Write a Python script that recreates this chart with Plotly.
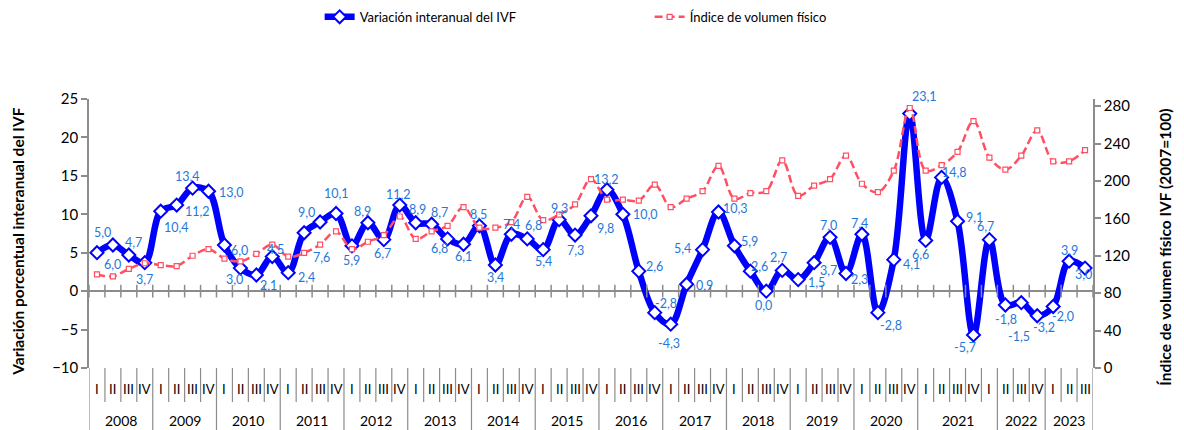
import plotly.graph_objects as go

# ---------------- data ----------------
quarter_labels = ["I", "II", "III", "IV"] * 15 + ["I", "II", "III"]
year_labels = ["2008", "2009", "2010", "2011", "2012", "2013", "2014", "2015",
               "2016", "2017", "2018", "2019", "2020", "2021", "2022", "2023"]
year_sizes = [4] * 13 + [5, 3, 3]

variacion_ivf = [5.0, 6.0, 4.7, 3.7,
                 10.4, 11.2, 13.4, 13.0,
                 6.0, 3.0, 2.1, 4.5,
                 2.4, 7.6, 9.0, 10.1,
                 5.9, 8.9, 6.7, 11.2,
                 8.9, 8.7, 6.8, 6.1,
                 8.5, 3.4, 7.4, 6.8,
                 5.4, 9.3, 7.3, 9.8,
                 13.2, 10.0, 2.6, -2.8,
                 -4.3, 0.9, 5.4, 10.3,
                 5.9, 2.6, 0.0, 2.7,
                 1.5, 3.7, 7.0, 2.3,
                 7.4, -2.8, 4.1, 23.1,
                 6.6, 14.8, 9.1, -5.7,
                 6.7, -1.8, -1.5, -3.2,
                 -2.0, 3.9, 3.0]

indice_ivf = [100, 98, 106, 112,
              110, 109, 120, 127,
              117, 114, 122, 132,
              119, 123, 132, 146,
              127, 135, 142, 162,
              138, 146, 152, 172,
              150, 150, 156, 183,
              158, 164, 175, 202,
              180, 180, 179, 196,
              172, 181, 189, 216,
              181, 187, 189, 222,
              184, 195, 202, 227,
              197, 188, 211, 278,
              211, 217, 231, 264,
              225, 212, 227, 254,
              221, 221, 233]

# data-label offsets in pixels (dx right, dy down) - styling only
label_offsets = [
    (6, -20), (0, 19), (5, -13), (0, 17),
    (16, 16), (21, 6), (-5, -12), (23, 1),
    (15, 5), (-6, 11), (12, 10), (3, -7),
    (18, 5), (17, 25), (-14, -9), (0, -20),
    (0, 15), (-5, -11), (-1, 14), (-1, -11),
    (2, -13), (8, -12), (-8, 10), (0, 12),
    (-1, -11), (0, 12), (0, -10), (6, -13),
    (0, 12), (0, -11), (0, 15), (14, 13),
    (0, -10), (23, 0), (16, -5), (11, -9),
    (-2, 19), (18, 1), (-20, -1), (17, -3),
    (15, -4), (9, -5), (-3, 14), (-4, -13),
    (18, 3), (14, 8), (-2, -12), (14, 6),
    (-2, -11), (13, 13), (18, 5), (15, -17),
    (-5, 14), (13, -5), (17, -4), (-8, 13),
    (-4, -13), (1, 15), (-2, 34), (7, 12),
    (10, 10), (0, -11), (-2, 6)]

# ---------------- figure ----------------
FONT = "Lato"
n = len(variacion_ivf)
x = list(range(n))
AXIS_COLOR = "#8c8c8c"
BLUE = "#0000FF"
RED = "#FF4F62"
LABEL_BLUE = "#1F78D8"

fig = go.Figure()

fig.add_trace(go.Scatter(
    x=x, y=variacion_ivf, name="Variación interanual del IVF",
    mode="lines+markers",
    line=dict(color=BLUE, width=6.5, shape="spline", smoothing=1.0),
    marker=dict(symbol="diamond", size=10, color="white",
                line=dict(color=BLUE, width=2)),
    yaxis="y",
))

fig.add_trace(go.Scatter(
    x=x, y=indice_ivf, name="Índice de volumen físico",
    mode="lines+markers",
    line=dict(color=RED, width=2.5, dash="8px,4px", shape="spline", smoothing=1.0),
    marker=dict(symbol="square", size=5, color="white",
                line=dict(color=RED, width=1.2)),
    yaxis="y2",
))

# small ticks on the zero line at category boundaries
fig.add_trace(go.Scatter(
    x=[i - 0.5 for i in range(n + 1)], y=[0] * (n + 1),
    mode="markers", showlegend=False, hoverinfo="skip",
    marker=dict(symbol="line-ns", size=9, line=dict(color=AXIS_COLOR, width=1.5)),
    yaxis="y",
))

annotations = []
# data labels
for i, v in enumerate(variacion_ivf):
    dx, dy = label_offsets[i]
    annotations.append(dict(x=i, y=v, xref="x", yref="y",
                            text=f"{v:.1f}".replace(".", ","),
                            showarrow=False, xshift=dx, yshift=-dy,
                            font=dict(family=FONT, size=12.5, color=LABEL_BLUE)))

# category axis: quarter labels, year labels, separators
PX_PER_UNIT = 269.0
def py(pix):  # pixel offset below plot bottom -> paper coords
    return -pix / PX_PER_UNIT

shapes = []
for i, q in enumerate(quarter_labels):
    annotations.append(dict(x=i, y=py(21), xref="x", yref="paper", text=q,
                            showarrow=False, font=dict(family=FONT, size=13, color="#000"),
                            yanchor="middle"))
year_bounds = [0]
for s in year_sizes:
    year_bounds.append(year_bounds[-1] + s)
for b in range(n + 1):
    is_year = b in year_bounds
    shapes.append(dict(type="line", xref="x", yref="paper",
                       x0=b - 0.5, x1=b - 0.5, y0=0, y1=py(62 if is_year else 34),
                       line=dict(color=AXIS_COLOR, width=1.2)))
for k, yl in enumerate(year_labels):
    center = (year_bounds[k] + year_bounds[k + 1] - 1) / 2
    annotations.append(dict(x=center, y=py(52), xref="x", yref="paper", text=yl,
                            showarrow=False, font=dict(family=FONT, size=14, color="#000"),
                            yanchor="middle"))

# axis titles
annotations.append(dict(x=-0.071, y=0.468, xref="paper", yref="paper",
                        xanchor="center", yanchor="middle",
                        text="<b>Variación porcentual interanual del IVF</b>",
                        textangle=-90, showarrow=False,
                        font=dict(family=FONT, size=15.5, color="#000")))
annotations.append(dict(x=1.0714, y=0.45, xref="paper", yref="paper",
                        xanchor="center", yanchor="middle",
                        text="<b>Índice de volumen físico IVF (2007=100)</b>",
                        textangle=-90, showarrow=False,
                        font=dict(family=FONT, size=15.5, color="#000")))

# the page body has an 8px margin, so the figure is 8px smaller than the window
fig.update_layout(
    width=1176, height=422,
    margin=dict(l=81, r=91, t=91, b=62),
    paper_bgcolor="white", plot_bgcolor="white",
    font=dict(family=FONT, color="#000"),
    showlegend=True,
    legend=dict(orientation="h", xref="container", yref="container",
                x=0.265, y=0.979, xanchor="left", yanchor="middle",
                font=dict(family=FONT, size=13, color="#000"),
                entrywidth=285, bgcolor="rgba(0,0,0,0)"),
    xaxis=dict(range=[-0.5, n - 0.5], showticklabels=False, showgrid=False,
               zeroline=False, showline=False, ticks=""),
    yaxis=dict(range=[-10, 25], dtick=5, showgrid=False,
               zeroline=True, zerolinecolor=AXIS_COLOR, zerolinewidth=1.5,
               showline=True, linecolor=AXIS_COLOR, linewidth=1.5,
               ticks="outside", ticklen=6, tickcolor=AXIS_COLOR, tickwidth=1.5,
               tickfont=dict(family=FONT, size=15, color="#000")),
    yaxis2=dict(range=[0, 287.6], tickvals=[0, 40, 80, 120, 160, 200, 240, 280],
                overlaying="y", side="right", showgrid=False, zeroline=False,
                showline=True, linecolor=AXIS_COLOR, linewidth=1.5,
                ticks="outside", ticklen=6, tickcolor=AXIS_COLOR, tickwidth=1.5,
                tickfont=dict(family=FONT, size=15, color="#000")),
    shapes=shapes,
    annotations=annotations,
)

fig.write_html("out.html")
